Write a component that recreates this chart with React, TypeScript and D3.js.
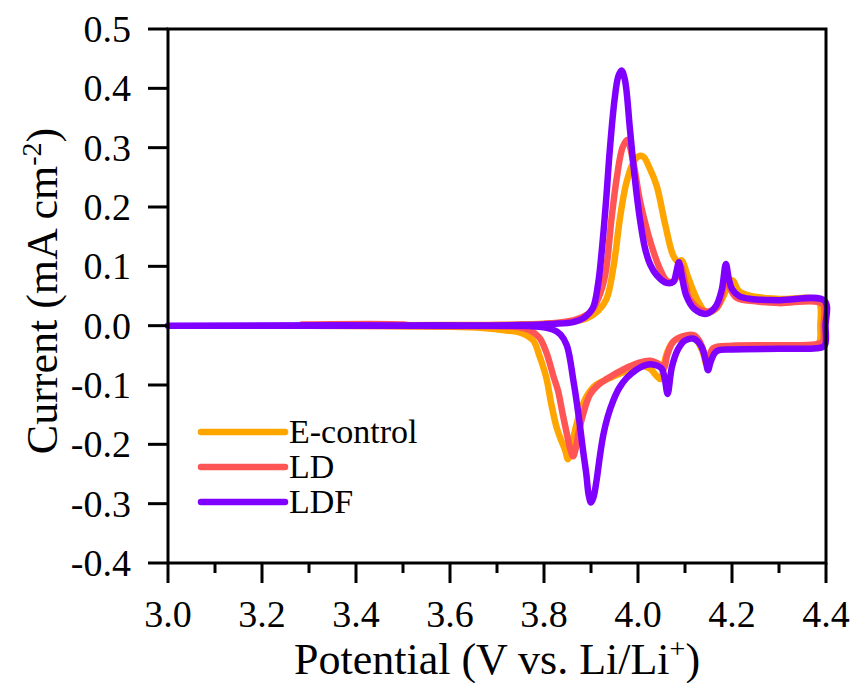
import React from 'react';
import * as d3 from 'd3';

// potential (V vs. Li/Li+), current (mA cm-2)
const eControl: [number, number][] = [
  [3.3, 0], [3.6, 0.001], [3.75, 0.002], [3.85, 0.006], [3.89, 0.012], [3.915, 0.025],
  [3.933, 0.045], [3.948, 0.1], [3.962, 0.183], [3.975, 0.24], [3.99, 0.275], [4.0, 0.285],
  [4.011, 0.285], [4.025, 0.265], [4.04, 0.235], [4.058, 0.17], [4.075, 0.118], [4.085, 0.108],
  [4.093, 0.11], [4.105, 0.085], [4.118, 0.058], [4.132, 0.035], [4.146, 0.022], [4.165, 0.028],
  [4.182, 0.05], [4.195, 0.075], [4.202, 0.076], [4.215, 0.058], [4.24, 0.05], [4.3, 0.045],
  [4.383, 0.042], [4.388, 0.0], [4.385, -0.03], [4.37, -0.035], [4.3, -0.036], [4.2, -0.037],
  [4.17, -0.038], [4.155, -0.045], [4.146, -0.065], [4.138, -0.045], [4.125, -0.025],
  [4.11, -0.018], [4.09, -0.02], [4.072, -0.03], [4.06, -0.05], [4.048, -0.09], [4.04, -0.085],
  [4.025, -0.072], [4.005, -0.068], [3.97, -0.078], [3.935, -0.09], [3.91, -0.1], [3.89, -0.12],
  [3.875, -0.15], [3.865, -0.18], [3.858, -0.205], [3.851, -0.225], [3.845, -0.21],
  [3.835, -0.19], [3.827, -0.172], [3.815, -0.13], [3.805, -0.088], [3.79, -0.05],
  [3.777, -0.025], [3.75, -0.012], [3.72, -0.008], [3.67, -0.004], [3.6, -0.002], [3.3, 0],
];

const ld: [number, number][] = [
  [3.285, 0.002], [3.5, 0.002], [3.52, 0], [3.7, 0.001], [3.8, 0.003], [3.85, 0.007],
  [3.88, 0.014], [3.9, 0.024], [3.915, 0.045], [3.93, 0.085], [3.944, 0.183], [3.955, 0.25],
  [3.967, 0.3], [3.977, 0.313], [3.99, 0.275], [4.004, 0.211], [4.018, 0.165], [4.032, 0.127],
  [4.047, 0.095], [4.061, 0.076], [4.075, 0.074], [4.085, 0.088], [4.091, 0.1], [4.1, 0.072],
  [4.11, 0.045], [4.13, 0.028], [4.15, 0.024], [4.17, 0.033], [4.18, 0.058], [4.188, 0.09],
  [4.195, 0.065], [4.21, 0.047], [4.25, 0.041], [4.3, 0.038], [4.392, 0.037], [4.395, 0.0],
  [4.393, -0.027], [4.38, -0.031], [4.3, -0.033], [4.2, -0.034], [4.16, -0.038],
  [4.152, -0.052], [4.146, -0.062], [4.14, -0.045], [4.13, -0.025], [4.118, -0.016],
  [4.095, -0.018], [4.075, -0.027], [4.062, -0.05], [4.055, -0.072], [4.047, -0.066],
  [4.026, -0.059], [4.0, -0.063], [3.976, -0.071], [3.933, -0.09], [3.915, -0.1],
  [3.898, -0.116], [3.883, -0.15], [3.873, -0.183], [3.868, -0.205], [3.862, -0.22],
  [3.855, -0.205], [3.848, -0.18], [3.84, -0.15], [3.83, -0.11], [3.82, -0.085],
  [3.805, -0.045], [3.79, -0.02], [3.77, -0.008], [3.749, -0.003], [3.6, -0.001], [3.285, 0],
];

const ldf: [number, number][] = [
  [3.0, 0], [3.5, 0], [3.75, 0.001], [3.82, 0.003], [3.862, 0.006], [3.885, 0.013],
  [3.904, 0.03], [3.915, 0.07], [3.923, 0.127], [3.932, 0.21], [3.94, 0.296], [3.95, 0.38],
  [3.958, 0.42], [3.965, 0.43], [3.972, 0.415], [3.983, 0.33], [3.993, 0.25], [4.004, 0.18],
  [4.015, 0.13], [4.026, 0.103], [4.04, 0.085], [4.061, 0.072], [4.075, 0.074],
  [4.082, 0.092], [4.087, 0.107], [4.094, 0.08], [4.103, 0.05], [4.12, 0.028], [4.146, 0.02],
  [4.165, 0.032], [4.178, 0.06], [4.187, 0.104], [4.193, 0.08], [4.2, 0.062], [4.215, 0.05],
  [4.24, 0.045], [4.3, 0.043], [4.397, 0.042], [4.399, 0.0], [4.397, -0.034],
  [4.38, -0.038], [4.3, -0.039], [4.2, -0.04], [4.167, -0.043], [4.155, -0.06],
  [4.149, -0.075], [4.143, -0.055], [4.135, -0.035], [4.118, -0.022], [4.1, -0.025],
  [4.085, -0.04], [4.072, -0.07], [4.063, -0.115], [4.057, -0.09], [4.05, -0.072],
  [4.035, -0.066], [4.018, -0.066], [3.995, -0.075], [3.976, -0.088], [3.96, -0.105],
  [3.947, -0.127], [3.935, -0.155], [3.926, -0.185], [3.918, -0.225], [3.912, -0.26],
  [3.905, -0.29], [3.9, -0.298], [3.895, -0.285], [3.89, -0.25], [3.883, -0.21],
  [3.877, -0.172], [3.868, -0.12], [3.862, -0.09], [3.855, -0.055], [3.848, -0.032],
  [3.835, -0.015], [3.82, -0.007], [3.79, -0.002], [3.7, 0], [3.0, 0],
];

const seriesNames = ['E-control', 'LD', 'LDF'];
const seriesColors = ['#FFA500', '#FF5555', '#8000FF'];
const seriesData = [eControl, ld, ldf];

const xTicks = [3.0, 3.2, 3.4, 3.6, 3.8, 4.0, 4.2, 4.4];
const xMinorTicks = [3.1, 3.3, 3.5, 3.7, 3.9, 4.1, 4.3];
const yTicks = [-0.4, -0.3, -0.2, -0.1, 0.0, 0.1, 0.2, 0.3, 0.4, 0.5];

const font = '"Liberation Serif"';

const width = 854;
const height = 683;
const left = 168;
const right = 826;
const top = 29;
const bottom = 563;

const x = d3.scaleLinear().domain([3.0, 4.4]).range([left, right]);
const y = d3.scaleLinear().domain([-0.4, 0.5]).range([bottom, top]);

const line = d3
  .line<[number, number]>()
  .x((d) => x(d[0]))
  .y((d) => y(d[1]))
  .curve(d3.curveCatmullRom.alpha(0.5));

const fmt = d3.format('.1f');
const label = (v: number) => fmt(v).replace('\u2212', '-');

const App = () => {
  return (
    <svg width={width} height={height} style={{ position: 'absolute', left: 0, top: 0 }}>
      {/* curves */}
      {seriesData.map((data, i) => (
        <path
          key={seriesNames[i]}
          d={line(data) || ''}
          fill="none"
          stroke={seriesColors[i]}
          strokeWidth={6.5}
          strokeLinejoin="round"
          strokeLinecap="round"
        />
      ))}

      {/* frame */}
      <rect
        x={left}
        y={top}
        width={right - left}
        height={bottom - top}
        fill="none"
        stroke="#000"
        strokeWidth={3}
      />

      {/* x ticks */}
      {xTicks.map((t) => (
        <g key={'x' + t}>
          <line x1={x(t)} x2={x(t)} y1={bottom} y2={bottom + 20} stroke="#000" strokeWidth={3} />
          <text
            x={x(t)}
            y={627}
            textAnchor="middle"
            fontSize={38}
            style={{ fontFamily: font }}
            fill="#000"
          >
            {label(t)}
          </text>
        </g>
      ))}
      {xMinorTicks.map((t) => (
        <line
          key={'xm' + t}
          x1={x(t)}
          x2={x(t)}
          y1={bottom}
          y2={bottom + 10}
          stroke="#000"
          strokeWidth={3}
        />
      ))}

      {/* y ticks */}
      {yTicks.map((t) => (
        <g key={'y' + t}>
          <line x1={left - 20} x2={left} y1={y(t)} y2={y(t)} stroke="#000" strokeWidth={3} />
          <text
            x={131}
            y={y(t) + 13}
            textAnchor="end"
            fontSize={38}
            style={{ fontFamily: font }}
            fill="#000"
          >
            {label(t)}
          </text>
        </g>
      ))}

      {/* axis titles */}
      <text
        x={(left + right) / 2}
        y={674}
        textAnchor="middle"
        fontSize={44}
        style={{ fontFamily: font }}
        fill="#000"
      >
        Potential (V vs. Li/Li
        <tspan fontSize={28} dy={-16}>
          +
        </tspan>
        <tspan dy={16}>)</tspan>
      </text>
      <text
        transform={`translate(57, ${(top + bottom) / 2 - 5}) rotate(-90)`}
        textAnchor="middle"
        fontSize={44}
        style={{ fontFamily: font }}
        fill="#000"
      >
        Current (mA cm
        <tspan fontSize={28} dy={-16}>
          -2
        </tspan>
        <tspan dy={16}>)</tspan>
      </text>

      {/* legend */}
      {seriesNames.map((name, i) => {
        const ly = 432 + i * 35;
        return (
          <g key={'lg' + name}>
            <line
              x1={201}
              x2={285}
              y1={ly}
              y2={ly}
              stroke={seriesColors[i]}
              strokeWidth={6.5}
              strokeLinecap="round"
            />
            <text x={289} y={ly + 11} fontSize={34} style={{ fontFamily: font }} fill="#000">
              {name}
            </text>
          </g>
        );
      })}
    </svg>
  );
};

export default App;
